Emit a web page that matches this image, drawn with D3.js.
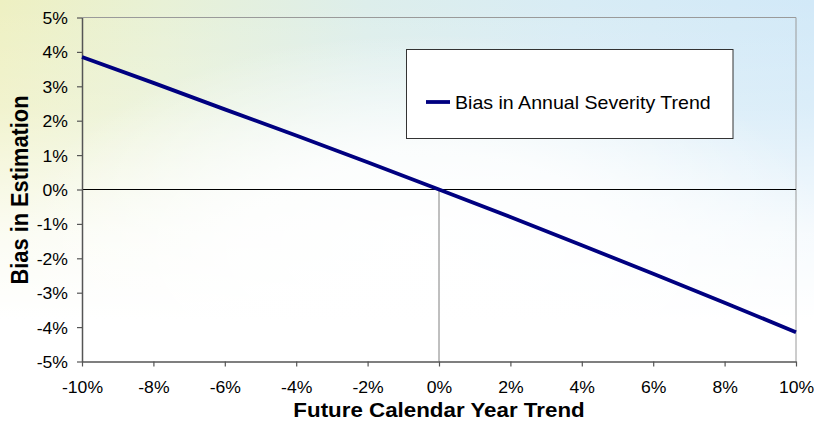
<!DOCTYPE html>
<html>
<head>
<meta charset="utf-8">
<script src="https://cdn.jsdelivr.net/npm/d3@7"></script>
<style>
  html, body { margin: 0; padding: 0; background: #fff; }
  svg { display: block; }
  text { font-family: "Liberation Sans", Arial, sans-serif; fill: #000; }
</style>
</head>
<body>
<svg id="chart" width="814" height="426"></svg>
<script>
// Future calendar year trend (x) and resulting bias in estimated annual severity trend (y)
const trend = [-0.10, -0.08, -0.06, -0.04, -0.02, 0.00, 0.02, 0.04, 0.06, 0.08, 0.10];
const bias  = [0.0385, 0.0310, 0.0233, 0.0157, 0.0079, 0.0000, -0.0080, -0.0162, -0.0245, -0.0329, -0.0415];
const seriesName = "Bias in Annual Severity Trend";
const xTicks = [-0.10, -0.08, -0.06, -0.04, -0.02, 0.00, 0.02, 0.04, 0.06, 0.08, 0.10];
const yTicks = [-0.05, -0.04, -0.03, -0.02, -0.01, 0.00, 0.01, 0.02, 0.03, 0.04, 0.05];
const xTitle = "Future Calendar Year Trend";
const yTitle = "Bias in Estimation";

const W = 814, H = 426;
const plot = { left: 82, top: 17.5, right: 796, bottom: 361.5 };
const stretch = 1.1; // text is drawn slightly wide

const svg = d3.select("#chart");
const defs = svg.append("defs");

// soft pastel backdrop: yellow-green on the left, sky blue on the right, fading to white
const bg = defs.append("linearGradient").attr("id", "bgH")
  .attr("x1", "0").attr("y1", "0").attr("x2", "1").attr("y2", "0");
[["0", "#eef0c2"], ["0.2", "#e8f1d6"], ["0.45", "#ddeeeb"], ["0.7", "#d8ecf5"], ["1", "#d2e9f8"]]
  .forEach(([o, c]) => bg.append("stop").attr("offset", o).attr("stop-color", c));

const fadeV = defs.append("linearGradient").attr("id", "fadeV")
  .attr("x1", "0").attr("y1", "0").attr("x2", "0").attr("y2", "1");
[["0", 0], ["0.25", 0.2], ["0.55", 0.8], ["0.75", 1], ["1", 1]]
  .forEach(([o, a]) => fadeV.append("stop").attr("offset", o).attr("stop-color", "#fff").attr("stop-opacity", a));

const fadeR = defs.append("radialGradient").attr("id", "fadeR")
  .attr("cx", "0.52").attr("cy", "0.58").attr("r", "0.5");
[["0", 0.95], ["0.45", 0.8], ["1", 0]]
  .forEach(([o, a]) => fadeR.append("stop").attr("offset", o).attr("stop-color", "#fff").attr("stop-opacity", a));

svg.append("rect").attr("width", W).attr("height", H).attr("fill", "url(#bgH)");
svg.append("rect").attr("width", W).attr("height", H).attr("fill", "url(#fadeV)");
svg.append("rect").attr("width", W).attr("height", H).attr("fill", "url(#fadeR)");

const x = d3.scaleLinear().domain([-0.10, 0.10]).range([plot.left, plot.right]);
const y = d3.scaleLinear().domain([-0.05, 0.05]).range([plot.bottom, plot.top]);
const pct = v => d3.format(".0%")(v).replace("\u2212", "-");

// plot frame: light top and right edges
svg.append("line").attr("x1", plot.left).attr("x2", plot.right).attr("y1", plot.top).attr("y2", plot.top)
  .attr("stroke", "#9a9a9a").attr("stroke-width", 1);
svg.append("line").attr("x1", plot.right).attr("x2", plot.right).attr("y1", plot.top).attr("y2", plot.bottom)
  .attr("stroke", "#9a9a9a").attr("stroke-width", 1);

// zero reference lines
svg.append("line").attr("x1", x(0)).attr("x2", x(0)).attr("y1", y(0)).attr("y2", plot.bottom)
  .attr("stroke", "#808080").attr("stroke-width", 1);
svg.append("line").attr("x1", plot.left).attr("x2", plot.right).attr("y1", y(0)).attr("y2", y(0))
  .attr("stroke", "#000").attr("stroke-width", 1);

// axes
const xAxis = svg.append("g").attr("transform", `translate(0,${plot.bottom})`)
  .call(d3.axisBottom(x).tickValues(xTicks).tickFormat(pct).tickSize(5).tickSizeOuter(0));
const yAxis = svg.append("g").attr("transform", `translate(${plot.left},0)`)
  .call(d3.axisLeft(y).tickValues(yTicks).tickFormat(pct).tickSize(5).tickSizeOuter(0));

[xAxis, yAxis].forEach(g => {
  g.attr("font-size", null).attr("font-family", null);
  g.select(".domain").attr("stroke", "#555").attr("stroke-width", 1.5);
  g.selectAll(".tick line").attr("stroke", "#555").attr("stroke-width", 1.2);
  g.selectAll(".tick text").attr("fill", "#000")
    .style("font-size", "16px")
    .style("font-family", "'Liberation Sans', Arial, sans-serif");
});
xAxis.selectAll(".tick text").attr("y", 0).attr("dy", 0)
  .attr("transform", `translate(0,31) scale(${stretch},1)`);
yAxis.selectAll(".tick text").attr("x", 0).attr("dy", 0)
  .attr("text-anchor", "end")
  .attr("transform", `translate(-14,6) scale(${stretch},1)`);

// series line
const line = d3.line().x((d, i) => x(trend[i])).y(d => y(d));
svg.append("path").datum(bias).attr("d", line)
  .attr("fill", "none").attr("stroke", "#000080").attr("stroke-width", 3.8)
  .attr("stroke-linejoin", "round");

// legend
const lg = svg.append("g");
lg.append("rect").attr("x", 406.5).attr("y", 49.5).attr("width", 326.5).attr("height", 89)
  .attr("fill", "#fff").attr("stroke", "#333").attr("stroke-width", 1);
lg.append("line").attr("x1", 426).attr("x2", 450).attr("y1", 102).attr("y2", 102)
  .attr("stroke", "#000080").attr("stroke-width", 3.8);
lg.append("text").attr("transform", `translate(455,108.5) scale(${stretch},1)`)
  .attr("font-size", 17.8).text(seriesName);

// axis titles
svg.append("text").attr("transform", `translate(${(plot.left + plot.right) / 2},417) scale(1.09,1)`)
  .attr("text-anchor", "middle").attr("font-size", 20.5).attr("font-weight", "bold").text(xTitle);
svg.append("text").attr("transform", `translate(28,190) scale(${stretch},1) rotate(-90)`)
  .attr("text-anchor", "middle").attr("font-size", 21.8).attr("font-weight", "bold").text(yTitle);
</script>
</body>
</html>
